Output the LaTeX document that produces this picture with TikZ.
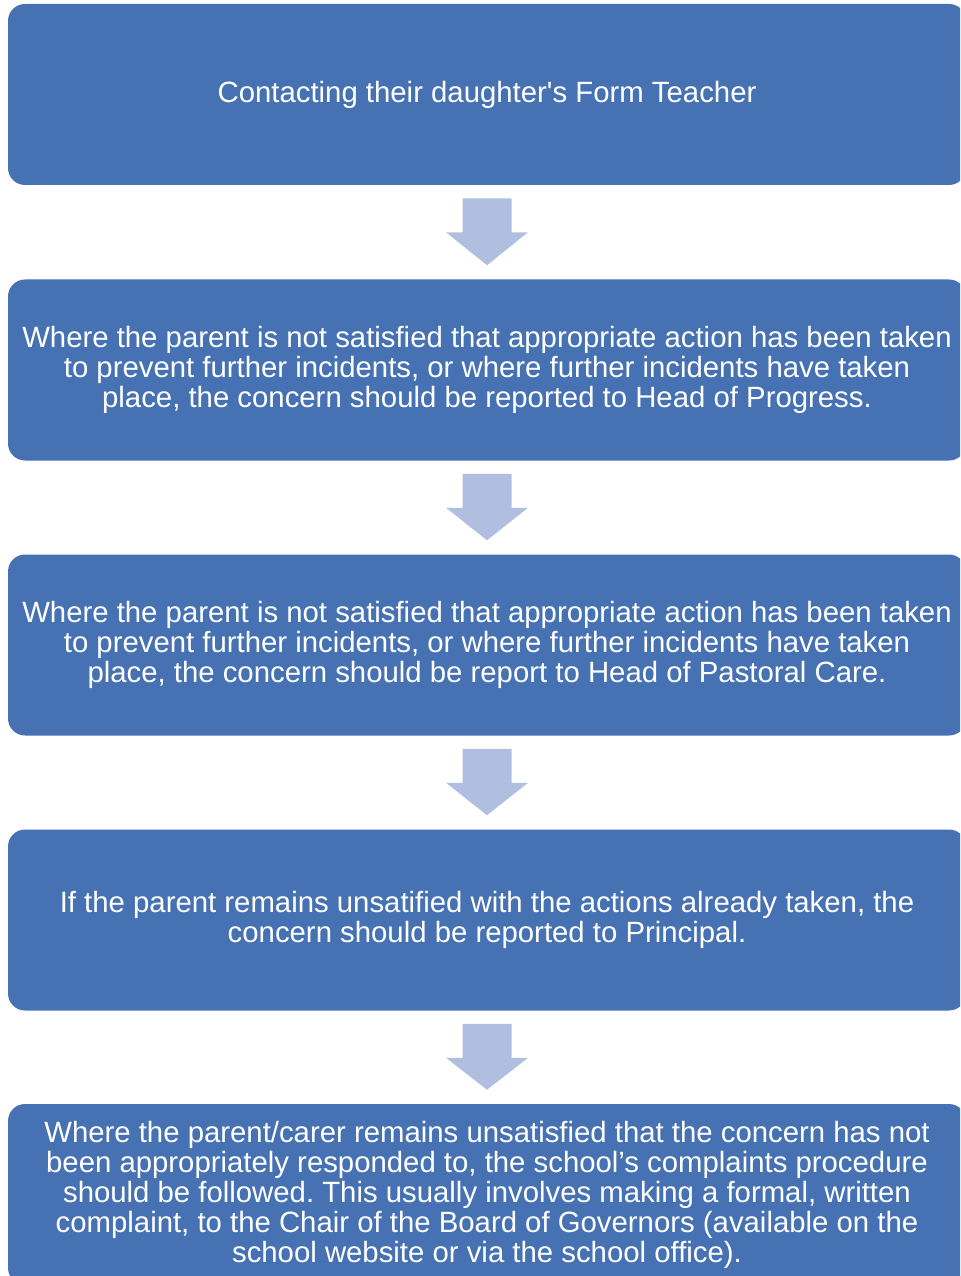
\documentclass[tikz,border=0pt]{standalone}
\usepackage{fontspec}
\setmainfont{Liberation Sans}[Ligatures=TeXOff]
\usetikzlibrary{calc}
\definecolor{boxblue}{RGB}{70,114,180}
\definecolor{arrowblue}{RGB}{176,190,223}
\begin{document}
\frenchspacing
\begin{tikzpicture}[x=0.75pt,y=-0.75pt,
  stepbox/.style={fill=boxblue, rounded corners=12.75pt, minimum width=718.5pt,
    minimum height=135.75pt, inner sep=0pt, text=white, align=center,
    font=\fontsize{22pt}{22.5pt}\selectfont}]
\useasboundingbox (0,0) rectangle (960,1276);
\clip (0,0) rectangle (960,1276);
\node[stepbox] (b1) at (487,94.5) {Contacting their daughter's Form Teacher};
\node[stepbox] (b2) at (487,370) {Where the parent is not satisfied that appropriate action has been taken\\to prevent further incidents, or where further incidents have taken\\place, the concern should be reported to Head of Progress.};
\node[stepbox] (b3) at (487,645) {Where the parent is not satisfied that appropriate action has been taken\\to prevent further incidents, or where further incidents have taken\\place, the concern should be report to Head of Pastoral Care.};
\node[stepbox] (b4) at (487,920) {If the parent remains unsatified with the actions already taken, the\\concern should be reported to Principal.};
\node[stepbox] (b5) at (487,1194.5) {Where the parent/carer remains unsatisfied that the concern has not\\been appropriately responded to, the school’s complaints procedure\\should be followed. This usually involves making a formal, written\\complaint, to the Chair of the Board of Governors (available on the\\school website or via the school office).};
\foreach \a/\b in {b1/b2,b2/b3,b3/b4,b4/b5}{
  \fill[arrowblue] ($(\a.south)+(-24.5,13)$) -- ($(\a.south)+(24.5,13)$) -- ($(\a.south)+(24.5,47)$) -- ($(\a.south)+(41,47)$) -- ($(\b.north)+(0,-14)$) -- ($(\a.south)+(-41,47)$) -- ($(\a.south)+(-24.5,47)$) -- cycle;
}
\end{tikzpicture}
\end{document}
